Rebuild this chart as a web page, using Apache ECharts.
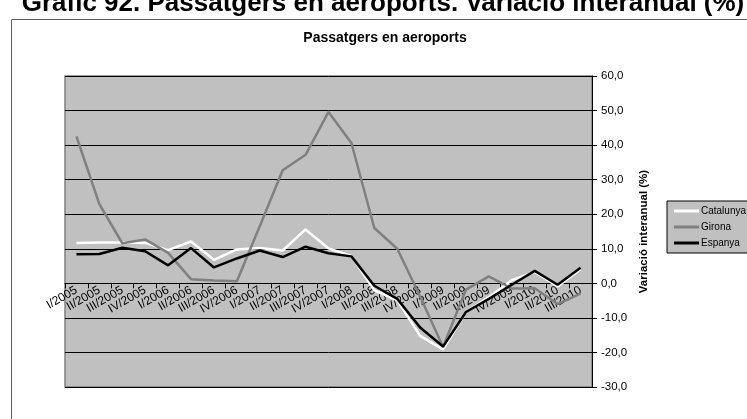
<!DOCTYPE html>
<html><head><meta charset="utf-8">
<script src="https://cdn.jsdelivr.net/npm/echarts@6/dist/echarts.min.js"></script>
<style>html,body{margin:0;padding:0;background:#fff}#c{width:747px;height:419px}</style>
</head><body><div id="c"></div>
<script>
const categories = ['I/2005','II/2005','III/2005','IV/2005','I/2006','II/2006','III/2006','IV/2006','I/2007','II/2007','III/2007','IV/2007','I/2008','II/2008','III/2008','IV/2008','I/2009','II/2009','III/2009','IV/2009','I/2010','II/2010','III/2010'];
const catalunya = [11.7, 11.8, 11.8, 11.7, 9.6, 12.1, 6.8, 9.8, 10.2, 9.5, 15.6, 10.1, 7.9, -2.0, -4.9, -15.2, -19.1, -8.3, -4.0, 0.9, 3.3, -0.9, 4.1];
const girona = [42.5, 22.9, 11.6, 12.7, 8.8, 1.2, 0.8, 0.6, 16.5, 32.7, 37.2, 49.6, 40.6, 16.0, 10.0, -3.8, -18.4, -1.8, 2.0, -1.5, -1.4, -6.0, -3.0];
const espanya = [8.4, 8.5, 10.3, 9.3, 5.2, 10.2, 4.6, 7.2, 9.5, 7.6, 10.6, 8.7, 7.8, -0.7, -4.5, -12.8, -18.3, -8.3, -4.5, -0.4, 3.6, -0.4, 4.5];
const seriesNames = ['Catalunya', 'Girona', 'Espanya'];
const mainTitle = 'Gràfic 92. Passatgers en aeroports. Variació interanual (%)';
const chartTitle = 'Passatgers en aeroports';
const yAxisName = 'Variació interanual (%)';
const yMin = -30, yMax = 60;

const FONT = '"Liberation Sans", Arial, sans-serif';
const gridTop = 76, gridBottom = 32, H = 419;
const plotH = H - gridTop - gridBottom;
const zeroOffset = -(plotH * (0 - yMin) / (yMax - yMin));

const chart = echarts.init(document.getElementById('c'), null, {renderer: 'canvas'});
chart.setOption({
  backgroundColor: '#ffffff',
  animation: false,
  graphic: [
    {type: 'rect', left: 9, top: 17, shape: {x: 0, y: 0, width: 760, height: 420},
     style: {fill: 'none', stroke: '#606060', lineWidth: 1}, z: 0},
    {type: 'text', x: 383, y: 4,
     style: {text: mainTitle, fontFamily: FONT, fontWeight: 'bold', fontSize: 26, fill: '#000', align: 'center', verticalAlign: 'middle'}}
  ],
  title: {
    text: chartTitle, left: 380, top: 26, textAlign: 'center',
    textStyle: {fontFamily: FONT, fontWeight: 'bold', fontSize: 14, color: '#000'}
  },
  legend: {
    data: seriesNames, orient: 'vertical', left: 667, top: 201,
    backgroundColor: '#c0c0c0', borderColor: '#000', borderWidth: 1,
    padding: [5, 8, 5, 7], itemGap: 6, itemWidth: 25, itemHeight: 3, icon: 'rect',
    textStyle: {fontFamily: FONT, fontSize: 10, color: '#000', padding: [0, 0, 0, -3]}
  },
  grid: {left: 65, right: 155, top: gridTop, bottom: gridBottom, show: true, backgroundColor: '#c0c0c0', borderColor: '#808080', borderWidth: 1.5},
  xAxis: {
    type: 'category', data: categories, boundaryGap: true,
    offset: zeroOffset,
    axisLine: {onZero: false, lineStyle: {color: '#000', width: 1}},
    axisTick: {show: true, length: 5, lineStyle: {color: '#000'}},
    axisLabel: {rotate: 30, margin: 6, fontFamily: FONT, fontSize: 12, color: '#000', interval: 0},
    splitLine: {show: false}
  },
  yAxis: {
    type: 'value', position: 'right', min: yMin, max: yMax, interval: 10,
    name: yAxisName, nameLocation: 'middle', nameGap: 46, nameRotate: 90,
    nameTextStyle: {fontFamily: FONT, fontWeight: 'bold', fontSize: 11.5, color: '#000'},
    axisLine: {show: true, lineStyle: {color: '#000', width: 1}},
    axisTick: {show: true, length: 5, lineStyle: {color: '#000'}},
    axisLabel: {margin: 9, fontFamily: FONT, fontSize: 11.5, color: '#000',
      formatter: v => v.toFixed(1).replace('.', ',')},
    splitLine: {show: true, lineStyle: {color: '#000', width: 1}}
  },
  series: [
    {name: seriesNames[0], type: 'line', data: catalunya, symbol: 'none', lineStyle: {color: '#ffffff', width: 2.5}, itemStyle: {color: '#ffffff'}},
    {name: seriesNames[1], type: 'line', data: girona, symbol: 'none', lineStyle: {color: '#808080', width: 2.5}, itemStyle: {color: '#808080'}},
    {name: seriesNames[2], type: 'line', data: espanya, symbol: 'none', lineStyle: {color: '#000000', width: 2.5}, itemStyle: {color: '#000000'}}
  ]
});
</script>
</body></html>
